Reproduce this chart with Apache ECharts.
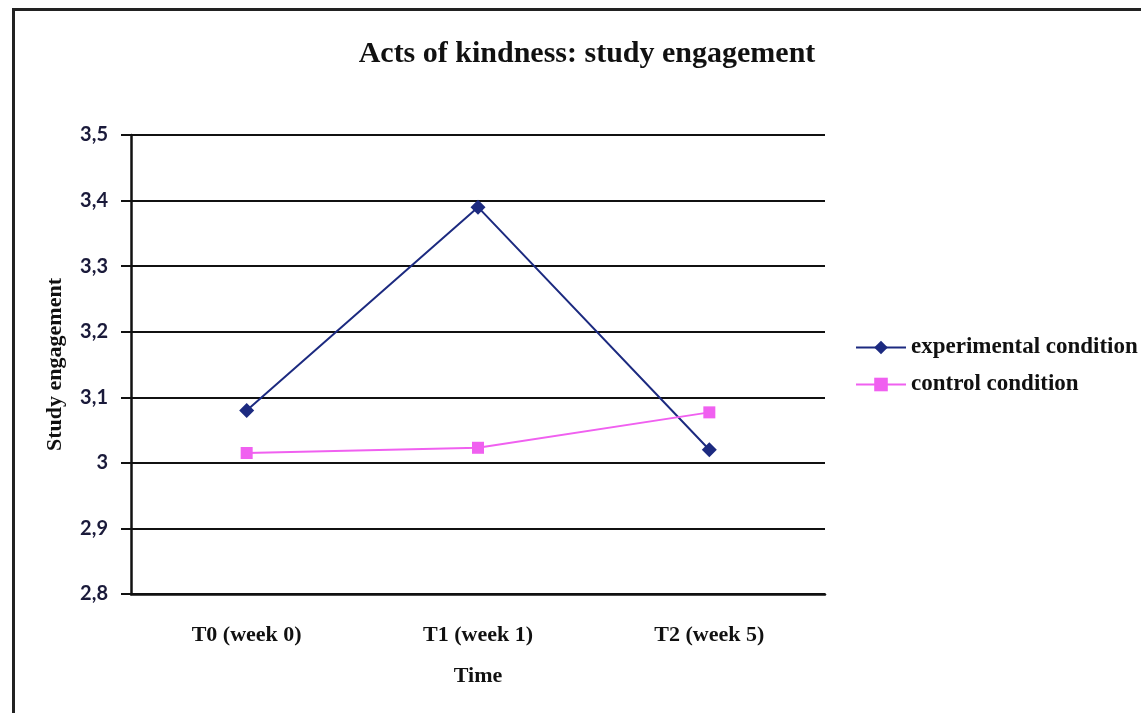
<!DOCTYPE html>
<html>
<head>
<meta charset="utf-8">
<script src="https://cdn.jsdelivr.net/npm/echarts@6/dist/echarts.min.js"></script>
<style>
  html, body { margin: 0; padding: 0; background: #fff; }
  #chart { width: 1141px; height: 713px; }
</style>
</head>
<body>
<div id="chart"></div>
<script>
// Measurement occasions
const timePoints = ['T0 (week 0)', 'T1 (week 1)', 'T2 (week 5)'];
// Mean study engagement per condition
const experimental = [3.08, 3.39, 3.02];
const control = [3.015, 3.023, 3.077];
// Y axis range and step
const yMin = 2.8, yMax = 3.5, yStep = 0.1;

const serif = 'Liberation Serif';
const chart = echarts.init(document.getElementById('chart'), null, { renderer: 'canvas' });

chart.setOption({
  animation: false,
  backgroundColor: '#fff',
  title: {
    text: 'Acts of kindness: study engagement',
    left: 582,
    top: 34,
    textAlign: 'center',
    textStyle: { fontFamily: serif, fontWeight: 'bold', fontSize: 30, color: '#111' }
  },
  graphic: [{
    type: 'rect',
    shape: { x: 13.5, y: 9.5, width: 1300, height: 900 },
    style: { fill: 'none', stroke: '#222', lineWidth: 3 },
    silent: true
  }],
  legend: {
    orient: 'vertical',
    left: 850,
    top: 331,
    itemGap: 14,
    itemWidth: 50,
    itemHeight: 17,
    textStyle: { fontFamily: serif, fontWeight: 'bold', fontSize: 23, color: '#111' },
    data: ['experimental condition', 'control condition']
  },
  grid: { left: 131, right: 316, top: 135, bottom: 119, containLabel: false },
  xAxis: {
    type: 'category',
    data: timePoints,
    boundaryGap: true,
    name: 'Time',
    nameLocation: 'middle',
    nameGap: 71,
    nameTextStyle: { fontFamily: serif, fontWeight: 'bold', fontSize: 22, color: '#111' },
    axisLine: { lineStyle: { color: '#111', width: 2.5 } },
    axisTick: { length: 9, lineStyle: { color: '#111', width: 2 } },
    axisLabel: { margin: 30, fontFamily: serif, fontWeight: 'bold', fontSize: 22, color: '#111' }
  },
  yAxis: {
    type: 'value',
    min: yMin,
    max: yMax,
    interval: yStep,
    name: 'Study engagement',
    nameLocation: 'middle',
    nameGap: 65,
    nameRotate: 90,
    nameTextStyle: { fontFamily: serif, fontWeight: 'bold', fontSize: 22, color: '#111' },
    axisLine: { show: true, lineStyle: { color: '#111', width: 2.5 } },
    axisTick: { show: true, length: 10, lineStyle: { color: '#111', width: 2 } },
    splitLine: { show: true, lineStyle: { color: '#111', width: 2 } },
    axisLabel: {
      margin: 23,
      fontFamily: 'Lato',
      fontWeight: 'bold',
      fontSize: 20,
      color: '#1a1a3a',
      formatter: v => String(Math.round(v * 10) / 10).replace('.', ',')
    }
  },
  series: [
    {
      name: 'experimental condition',
      type: 'line',
      data: experimental,
      symbol: 'diamond',
      symbolSize: 15,
      lineStyle: { color: '#1c2a80', width: 2 },
      itemStyle: { color: '#1c2a80' }
    },
    {
      name: 'control condition',
      type: 'line',
      data: control,
      symbol: 'rect',
      symbolSize: 12,
      lineStyle: { color: '#f060f0', width: 2 },
      itemStyle: { color: '#f060f0' }
    }
  ]
});
</script>
</body>
</html>
